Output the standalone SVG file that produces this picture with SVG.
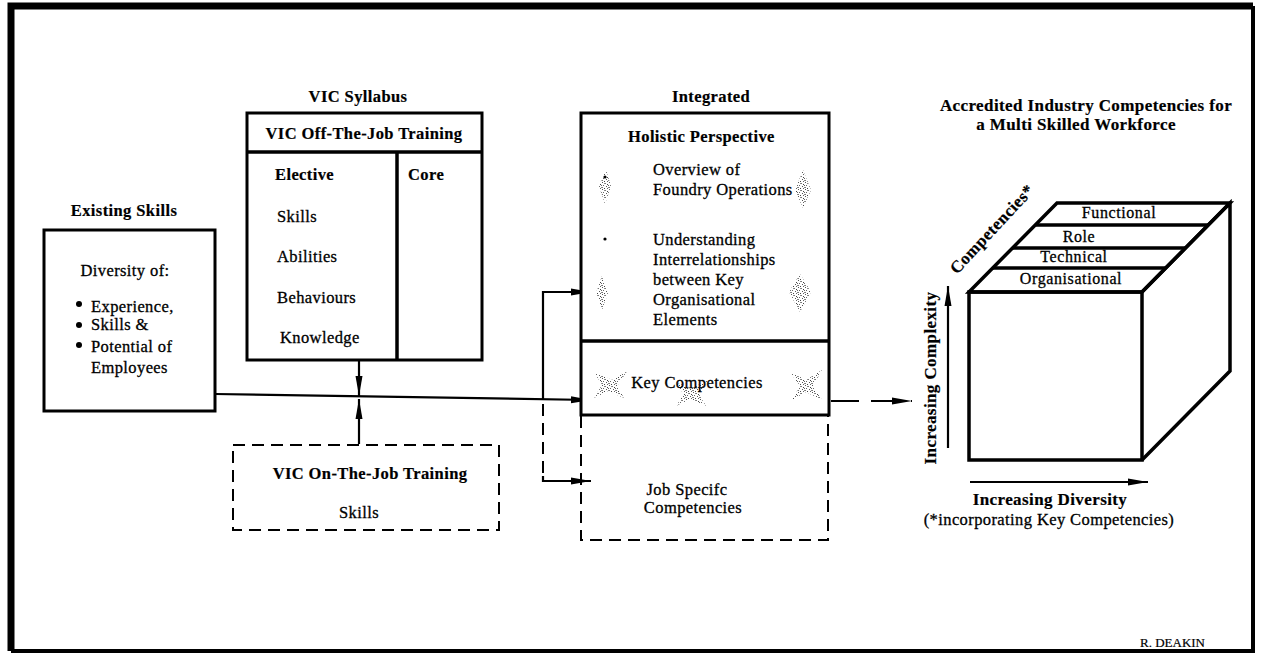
<svg xmlns="http://www.w3.org/2000/svg" width="1265" height="664" viewBox="0 0 1265 664" font-family="'Liberation Serif', 'DejaVu Serif', serif">
  <style>
    .t { font-family: "Liberation Serif", "DejaVu Serif", serif; fill: #000; stroke: #000; stroke-width: 0.3px; font-size: 16.5px; letter-spacing: 0.4px; }
    .b { font-weight: bold; stroke-width: 0.2px; }
    .hd { font-weight: bold; font-size: 17px; letter-spacing: 0.4px; stroke-width: 0.2px; }
    .band { font-size: 16px; letter-spacing: 0.6px; }
    .box { fill: #fff; stroke: #000; stroke-width: 3; }
    .dash { fill: none; stroke: #000; stroke-width: 2; stroke-dasharray: 12 7; }
    .ln { fill: none; stroke: #000; stroke-width: 2.2; }
    .thick { fill: none; stroke: #000; stroke-width: 3.5; stroke-linejoin: miter; }
    .mid { text-anchor: middle; }
  </style>
  <defs>
    <marker id="arr" viewBox="0 0 20 10" refX="20" refY="5" markerWidth="20" markerHeight="10" markerUnits="userSpaceOnUse" orient="auto">
      <path d="M0,1.5 L20,5 L0,8.5 Z" fill="#000"/>
    </marker>
    <!-- irregular speckle used for the grey shading marks -->
    <pattern id="grain" width="7" height="7" patternUnits="userSpaceOnUse">
      <rect x="0" y="0" width="1" height="1" fill="#555"/>
      <rect x="3" y="1" width="1" height="1" fill="#777"/>
      <rect x="5" y="2" width="1" height="1" fill="#444"/>
      <rect x="1" y="3" width="1" height="1" fill="#666"/>
      <rect x="4" y="4" width="1" height="1" fill="#555"/>
      <rect x="6" y="5" width="1" height="1" fill="#888"/>
      <rect x="2" y="6" width="1" height="1" fill="#444"/>
      <rect x="0" y="5" width="1" height="1" fill="#777"/>
      <rect x="5" y="6" width="1" height="1" fill="#666"/>
      <rect x="2" y="1" width="1" height="1" fill="#888"/>
      <rect x="6" y="3" width="1" height="1" fill="#666"/>
    </pattern>
  </defs>

  <!-- frame: heavier on the top and left -->
  <rect x="11" y="6" width="1242" height="645" fill="#fff"/>
  <polyline points="11,651 11,6 1253,6" fill="none" stroke="#000" stroke-width="7"/>
  <polyline points="1253,6 1253,651 11,651" fill="none" stroke="#000" stroke-width="4"/>

  <!-- connectors -->
  <g id="connectors">
    <!-- main flow from existing skills into key competencies -->
    <line class="ln" x1="215" y1="394" x2="591" y2="400" marker-end="url(#arr)"/>
    <!-- syllabus down to the main line -->
    <line class="ln" x1="359" y1="361" x2="359" y2="396" marker-end="url(#arr)"/>
    <!-- on-the-job training up to the main line -->
    <line class="ln" x1="359" y1="444" x2="359" y2="399" marker-end="url(#arr)"/>
    <!-- branch to holistic perspective -->
    <polyline class="ln" points="543,400 543,292 591,292" marker-end="url(#arr)"/>
    <!-- dashed branch to job specific competencies -->
    <line class="dash" x1="543" y1="404" x2="543" y2="478"/>
    <polyline class="ln" points="543,476 543,481 591,481" marker-end="url(#arr)"/>
    <!-- outcome to industry competencies -->
    <line x1="831" y1="401" x2="912" y2="401" stroke="#000" stroke-width="2" stroke-dasharray="28 12" marker-end="url(#arr)"/>
  </g>

  <!-- existing skills -->
  <g id="existing-skills">
    <text class="t b mid" x="124" y="216">Existing Skills</text>
    <rect class="box" x="44" y="230" width="171" height="181"/>
    <text class="t mid" x="125" y="276">Diversity of:</text>
    <circle cx="79" cy="304" r="3"/>
    <circle cx="79" cy="325" r="3"/>
    <circle cx="79" cy="345" r="3"/>
    <text class="t" x="91" y="312">Experience,</text>
    <text class="t" x="91" y="330">Skills &amp;</text>
    <text class="t" x="91" y="352">Potential of</text>
    <text class="t" x="91" y="373">Employees</text>
  </g>

  <!-- VIC syllabus -->
  <g id="vic-syllabus">
    <text class="t b mid" x="358" y="102">VIC Syllabus</text>
    <rect class="box" x="247" y="113" width="235" height="247"/>
    <line class="thick" x1="247" y1="152" x2="482" y2="152"/>
    <line class="thick" x1="397" y1="152" x2="397" y2="360"/>
    <text class="t b mid" x="364" y="139">VIC Off-The-Job Training</text>
    <text class="t b" x="275" y="180">Elective</text>
    <text class="t b" x="408" y="180">Core</text>
    <text class="t" x="277" y="222">Skills</text>
    <text class="t" x="277" y="262">Abilities</text>
    <text class="t" x="277" y="303">Behaviours</text>
    <text class="t" x="280" y="343">Knowledge</text>
  </g>

  <!-- VIC on-the-job training -->
  <g id="vic-on-the-job">
    <rect class="dash" x="233" y="445" width="266" height="85"/>
    <text class="t b mid" x="370" y="479">VIC On-The-Job Training</text>
    <text class="t mid" x="359" y="518">Skills</text>
  </g>

  <!-- integrated competencies -->
  <g id="integrated">
    <text class="t b mid" x="711" y="102">Integrated</text>
    <rect class="box" x="581" y="113" width="248" height="302"/>
    <line class="thick" x1="581" y1="341" x2="829" y2="341"/>
    <!-- grey shading marks -->
    <g fill="url(#grain)">
      <path d="M606,170 L611,186 L605,204 L599,186 Z"/>
      <path d="M803,170 L811,190 L803,208 L795,190 Z"/>
      <path d="M602,276 L608,293 L602,310 L596,293 Z"/>
      <path d="M800,274 L811,292 L800,312 L789,292 Z"/>
      <path d="M594,372 L612,380 L628,370 L617,386 L624,398 L608,391 L594,398 L602,385 Z"/>
      <path d="M674,382 L692,388 L708,380 L699,394 L706,406 L690,399 L676,406 L684,394 Z"/>
      <path d="M790,372 L806,380 L822,370 L813,386 L822,400 L806,392 L792,400 L800,386 Z"/>
    </g>
    <text class="t b" x="628" y="142">Holistic Perspective</text>
    <circle cx="605" cy="177" r="1.6"/>
    <circle cx="605" cy="239" r="1.6"/>
    <text class="t" x="653" y="175">Overview of</text>
    <text class="t" x="653" y="195">Foundry Operations</text>
    <text class="t" x="653" y="245">Understanding</text>
    <text class="t" x="653" y="265">Interrelationships</text>
    <text class="t" x="653" y="285">between Key</text>
    <text class="t" x="653" y="305">Organisational</text>
    <text class="t" x="653" y="325">Elements</text>
    <text class="t mid" x="697" y="388">Key Competencies</text>
  </g>

  <!-- job specific competencies -->
  <g id="job-specific">
    <path class="dash" d="M581,416 V540 H828 V416"/>
    <text class="t mid" x="687" y="495">Job Specifc</text>
    <text class="t mid" x="693" y="513">Competencies</text>
  </g>

  <!-- accredited industry competencies cube -->
  <g id="industry-competencies">
    <text class="t hd mid" x="1086" y="111">Accredited Industry Competencies for</text>
    <text class="t hd mid" x="1076" y="130">a Multi Skilled Workforce</text>
    <!-- faces -->
    <path class="thick" d="M969,292 L1057,203 L1230,203 L1142,292 Z" fill="#fff"/>
    <rect class="thick" x="969" y="292" width="173" height="168" fill="#fff"/>
    <path class="thick" d="M1142,292 L1230,203 L1230,371 L1142,460"/>
    <!-- competency bands -->
    <line class="thick" x1="1036" y1="225" x2="1208" y2="225"/>
    <line class="thick" x1="1013" y1="248" x2="1186" y2="248"/>
    <line class="thick" x1="993" y1="268" x2="1166" y2="268"/>
    <text class="t band mid" x="1119" y="218">Functional</text>
    <text class="t band mid" x="1079" y="242">Role</text>
    <text class="t band mid" x="1074" y="262">Technical</text>
    <text class="t band mid" x="1071" y="284">Organisational</text>
    <text class="t hd mid" transform="translate(996,233) rotate(-47)">Competencies*</text>
    <!-- axes -->
    <line class="ln" x1="948" y1="448" x2="948" y2="286" marker-end="url(#arr)"/>
    <text class="t hd mid" transform="translate(936,378) rotate(-90)">Increasing Complexity</text>
    <line class="ln" x1="970" y1="482" x2="1148" y2="482" marker-end="url(#arr)"/>
    <text class="t hd mid" x="1050" y="505">Increasing Diversity</text>
    <text class="t mid" x="1049" y="525">(*incorporating Key Competencies)</text>
  </g>

  <text class="t" x="1140" y="647" style="font-size:13px;letter-spacing:0;stroke-width:0.2px">R. DEAKIN</text>
</svg>
